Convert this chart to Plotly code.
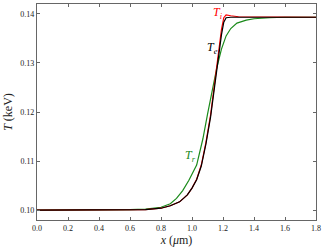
import plotly.graph_objects as go

# Electron temperature T_e
x_e = [0.0, 0.6, 0.7, 0.8, 0.86, 0.92, 0.97, 1.00, 1.03, 1.06, 1.09, 1.12, 1.15, 1.17, 1.19, 1.205, 1.22, 1.25, 1.8]
T_e = [0.1, 0.1, 0.1001, 0.1004, 0.1009, 0.1017, 0.1031, 0.1045, 0.1062, 0.1090, 0.1135, 0.1190, 0.1265, 0.1312, 0.1357, 0.1383, 0.1392, 0.1393, 0.1393]

# Ion temperature T_i
x_i = [0.0, 0.6, 0.7, 0.8, 0.86, 0.92, 0.97, 1.00, 1.03, 1.06, 1.09, 1.12, 1.15, 1.17, 1.19, 1.205, 1.22, 1.25, 1.30, 1.8]
T_i = [0.1, 0.1, 0.1001, 0.1004, 0.1009, 0.1017, 0.1031, 0.1045, 0.1063, 0.1092, 0.1138, 0.1194, 0.1268, 0.1320, 0.1368, 0.1392, 0.1398, 0.1396, 0.1394, 0.1393]

# Radiation temperature T_r
x_r = [0.0, 0.5, 0.6, 0.7, 0.75, 0.8, 0.86, 0.90, 0.94, 0.98, 1.03, 1.07, 1.10, 1.13, 1.16, 1.19, 1.22, 1.25, 1.29, 1.35, 1.40, 1.50, 1.60, 1.8]
T_r = [0.1, 0.1, 0.1001, 0.1002, 0.1004, 0.1006, 0.1013, 0.1024, 0.1040, 0.1061, 0.1092, 0.1145, 0.1195, 0.1246, 0.1290, 0.1328, 0.1355, 0.1370, 0.1381, 0.1387, 0.1390, 0.1392, 0.1393, 0.1393]

x_ticks = [0.0, 0.2, 0.4, 0.6, 0.8, 1.0, 1.2, 1.4, 1.6, 1.8]
y_ticks = [0.10, 0.11, 0.12, 0.13, 0.14]

FONT = "Liberation Serif"

fig = go.Figure()
fig.add_trace(go.Scatter(x=x_r, y=T_r, mode="lines", line=dict(color="#1a8a1a", width=1.2), showlegend=False))
fig.add_trace(go.Scatter(x=x_i, y=T_i, mode="lines", line=dict(color="#ff0000", width=1.2), showlegend=False))
fig.add_trace(go.Scatter(x=x_e, y=T_e, mode="lines", line=dict(color="#000000", width=1.2), showlegend=False))

fig.add_annotation(x=1.17, y=0.1402, text="<i>T<sub>i</sub></i>", showarrow=False,
                   font=dict(family=FONT, size=12, color="#ff0000"))
fig.add_annotation(x=1.13, y=0.1330, text="<i>T<sub>e</sub></i>", showarrow=False,
                   font=dict(family=FONT, size=12, color="#000000"))
fig.add_annotation(x=0.99, y=0.1110, text="<i>T<sub>r</sub></i>", showarrow=False,
                   font=dict(family=FONT, size=12, color="#1a8a1a"))

axis_common = dict(showgrid=False, zeroline=False, showline=True, linecolor="#666666", linewidth=1.2,
                   mirror="ticks", ticks="inside", ticklen=3, tickcolor="#666666",
                   tickfont=dict(family=FONT, size=8, color="#222222"))

fig.update_xaxes(range=[0, 1.8], tickvals=x_ticks, ticktext=[f"{v:.1f}" for v in x_ticks],
                 title=dict(text="<i>x</i> (<i>μ</i>m)", font=dict(family=FONT, size=12, color="#222222"), standoff=3),
                 **axis_common)
fig.update_yaxes(range=[0.098, 0.142], tickvals=y_ticks, ticktext=[f"{v:.2f}" for v in y_ticks],
                 title=dict(text="<i>T</i> (keV)", font=dict(family=FONT, size=12, color="#222222"), standoff=5),
                 **axis_common)

fig.update_layout(width=326, height=250, margin=dict(l=37, r=10, t=4, b=30, autoexpand=False),
                  plot_bgcolor="white", paper_bgcolor="white")

fig.write_html("out.html", config={"displayModeBar": False},
               post_script="document.body.style.margin='0';document.body.style.overflow='hidden';")
